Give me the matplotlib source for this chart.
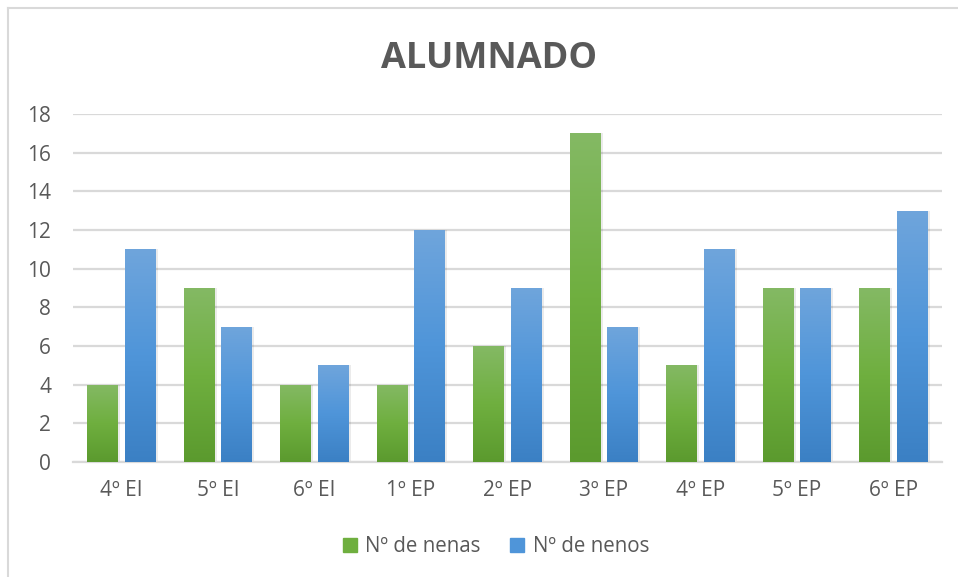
import matplotlib.pyplot as plt
import numpy as np
from matplotlib.colors import LinearSegmentedColormap
from matplotlib.lines import Line2D

cursos = ['4º EI', '5º EI', '6º EI', '1º EP', '2º EP', '3º EP', '4º EP', '5º EP', '6º EP']
nenas = [4, 9, 4, 4, 6, 17, 5, 9, 9]
nenos = [11, 7, 5, 12, 9, 7, 11, 9, 13]
series = ['Nº de nenas', 'Nº de nenos']

plt.rcParams['font.family'] = ['Open Sans', 'DejaVu Sans']
gris = '#595959'

fig = plt.figure(figsize=(9.58, 5.77), dpi=100)
ax = fig.add_axes([0.0765, 0.1993, 0.9065, 0.6031])

x = np.arange(len(cursos))
w = 0.32
off = 0.195

verde = LinearSegmentedColormap.from_list('v', ['#5b9a2e', '#6faf3f', '#84b964'])
azul = LinearSegmentedColormap.from_list('a', ['#3b80c4', '#4f95d9', '#6fa5dc'])
grad = np.linspace(0, 1, 256).reshape(-1, 1)

def barras(pos, vals, cmap, color):
    bars = ax.bar(pos, vals, w, color=color, zorder=3)
    for b in bars:
        x0, y0 = b.get_x(), b.get_y()
        x1, y1 = x0 + b.get_width(), y0 + b.get_height()
        # soft shadow
        ax.bar(b.get_x() + b.get_width() / 2 + 0.01, b.get_height() + 0.05, w + 0.02,
               bottom=-0.05, color='#000000', alpha=0.08, zorder=2)
        im = ax.imshow(grad, cmap=cmap, origin='lower', aspect='auto',
                       extent=[x0, x1, y0, y1], zorder=4)
        im.set_clip_path(b)
    return bars

barras(x - off, nenas, verde, '#6faf3f')
barras(x + off, nenos, azul, '#4f95d9')

ax.set_xlim(-0.5, len(cursos) - 0.5)
ax.set_ylim(0, 18)
ax.set_yticks(np.arange(0, 19, 2))
ax.set_xticks(x)
ax.set_xticklabels(cursos)
ax.yaxis.grid(True, color='#d9d9d9', lw=1.6, zorder=0)
ax.set_axisbelow(True)
for s in ['top', 'right', 'left']:
    ax.spines[s].set_visible(False)
ax.spines['bottom'].set_color('#d9d9d9')
ax.spines['bottom'].set_linewidth(1.6)
ax.tick_params(axis='both', length=0, colors=gris, labelsize=15)
ax.tick_params(axis='y', pad=16)
ax.tick_params(axis='x', pad=13)

fig.text(0.511, 0.897, 'ALUMNADO', ha='center', va='center', fontsize=26,
         fontweight='bold', color=gris)

handles = [Line2D([], [], marker='s', ls='', color='#6faf3f', ms=10.5),
           Line2D([], [], marker='s', ls='', color='#4f95d9', ms=10.5)]
fig.legend(handles, series, loc='center', bbox_to_anchor=(0.516, 0.052), ncol=2,
           frameon=False, fontsize=14.8, labelcolor=gris, handletextpad=0.25,
           columnspacing=1.3, handlelength=1.0)

# chart frame (left and top edges visible)
fig.add_artist(Line2D([8 / 958, 8 / 958], [0, 1 - 8 / 577], color='#d9d9d9', lw=1.5))
fig.add_artist(Line2D([8 / 958, 1], [1 - 8 / 577, 1 - 8 / 577], color='#d9d9d9', lw=1.5))

fig.savefig('out.png', dpi=100)
